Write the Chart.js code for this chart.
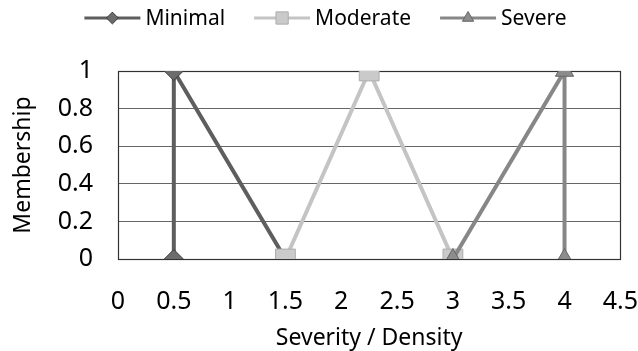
<!DOCTYPE html>
<html>
<head>
<meta charset="utf-8">
<script src="https://cdn.jsdelivr.net/npm/chart.js@4"></script>
<style>
  html, body { margin: 0; padding: 0; background: #ffffff; }
  #wrap { width: 638px; height: 351px; }
</style>
</head>
<body>
<div id="wrap"><canvas id="c" width="638" height="351"></canvas></div>
<script>
// ---- data ----
const seriesNames = ["Minimal", "Moderate", "Severe"];
const minimalX = [0.5, 0.5, 1.5];
const minimalY = [0, 1, 0];
const moderateX = [1.5, 2.25, 3];
const moderateY = [0, 1, 0];
const severeX = [3, 4, 4];
const severeY = [0, 1, 0];
const xTicks = [0, 0.5, 1, 1.5, 2, 2.5, 3, 3.5, 4, 4.5];
const yTicks = [0, 0.2, 0.4, 0.6, 0.8, 1];
const xTitle = "Severity / Density";
const yTitle = "Membership";

const FONT = "'Noto Sans', sans-serif";
const TICK_FS = 25;
const TITLE_FS = 23;
const LEG_FS = 21;

function pts(xs, ys) { return xs.map((x, i) => ({ x: x, y: ys[i] })); }

const styles = [
  { line: "#5e5e5e", fill: "#6c6c6c", border: "#3a3a3a", point: "rectRot", r: 9.5, order: 2 },
  { line: "#c4c4c4", fill: "#cacaca", border: "#adadad", point: "rect", r: 14, order: 1 },
  { line: "#878787", fill: "#8c8c8c", border: "#666666", point: "triangle", r: 10.5, order: 0 }
];
const dataXY = [[minimalX, minimalY], [moderateX, moderateY], [severeX, severeY]];

const datasets = seriesNames.map((name, i) => ({
  label: name,
  data: pts(dataXY[i][0], dataXY[i][1]),
  showLine: true,
  borderColor: styles[i].line,
  borderWidth: 4,
  pointStyle: styles[i].point,
  pointRadius: styles[i].r,
  pointHoverRadius: styles[i].r,
  pointBackgroundColor: styles[i].fill,
  pointBorderColor: styles[i].border,
  pointBorderWidth: 1,
  order: styles[i].order,
  tension: 0
}));

const frame = {
  id: "frame",
  beforeDatasetsDraw(chart) {
    const a = chart.chartArea, ctx = chart.ctx;
    ctx.save();
    ctx.strokeStyle = "#333333";
    ctx.lineWidth = 1.2;
    ctx.strokeRect(Math.round(a.left) + 0.5, Math.round(a.top) + 0.5,
      Math.round(a.right - a.left), Math.round(a.bottom - a.top));
    ctx.restore();
  }
};

const legendLine = {
  id: "legendLine",
  afterDraw(chart) {
    const ctx = chart.ctx;
    ctx.save();
    ctx.font = LEG_FS + "px " + FONT;
    const segW = 56, gapT = 5, gapI = 29;
    const widths = seriesNames.map(n => ctx.measureText(n).width);
    let total = 0;
    widths.forEach((w, i) => { total += segW + gapT + w + (i < widths.length - 1 ? gapI : 0); });
    let x = 325.5 - total / 2;
    const y = 18;
    seriesNames.forEach((n, i) => {
      const s = styles[i];
      ctx.strokeStyle = s.line;
      ctx.lineWidth = 3;
      ctx.beginPath();
      ctx.moveTo(x, y);
      ctx.lineTo(x + segW, y);
      ctx.stroke();
      ctx.fillStyle = s.fill;
      ctx.strokeStyle = s.border;
      ctx.lineWidth = 1;
      Chart.helpers.drawPoint(ctx, { pointStyle: s.point, radius: s.r * 0.62, rotation: 0, borderWidth: 1 }, x + segW / 2, y);
      ctx.fillStyle = "#000000";
      ctx.textBaseline = "middle";
      ctx.textAlign = "left";
      ctx.fillText(n, x + segW + gapT, y + 1);
      x += segW + gapT + widths[i] + gapI;
    });
    ctx.restore();
  }
};

new Chart(document.getElementById("c"), {
  type: "scatter",
  data: { datasets: datasets },
  plugins: [frame, legendLine],
  options: {
    responsive: false,
    animation: false,
    devicePixelRatio: 1,
    layout: { padding: { top: 71, right: 17, bottom: 0, left: 11 } },
    plugins: { legend: { display: false }, tooltip: { enabled: false } },
    scales: {
      x: {
        type: "linear",
        min: xTicks[0],
        max: xTicks[xTicks.length - 1],
        afterBuildTicks(scale) { scale.ticks = xTicks.map(v => ({ value: v })); },
        afterFit(scale) { scale.height = 92; },
        ticks: { padding: 0, color: "#000", font: { family: FONT, size: TICK_FS }, maxRotation: 0, autoSkip: false,
                 callback: v => String(v) },
        grid: { display: true, drawOnChartArea: false, drawTicks: true, tickLength: 28, tickColor: "rgba(0,0,0,0)", color: "rgba(0,0,0,0)" },
        border: { display: false },
        title: { display: true, text: xTitle, color: "#000", font: { family: FONT, size: TITLE_FS, lineHeight: 1.1 }, padding: 0 }
      },
      y: {
        type: "linear",
        min: yTicks[0],
        max: yTicks[yTicks.length - 1],
        afterBuildTicks(scale) { scale.ticks = yTicks.map(v => ({ value: v })); },
        afterFit(scale) { scale.width = 107; },
        ticks: { padding: 3, color: "#000", font: { family: FONT, size: TICK_FS }, callback: v => String(v) },
        grid: { color: "#666666", lineWidth: 1, drawTicks: true, tickLength: 22, tickColor: "rgba(0,0,0,0)" },
        border: { display: false },
        title: { display: true, text: yTitle, color: "#000", font: { family: FONT, size: TITLE_FS, lineHeight: 1.1 }, padding: 0 }
      }
    }
  }
});
</script>
</body>
</html>
